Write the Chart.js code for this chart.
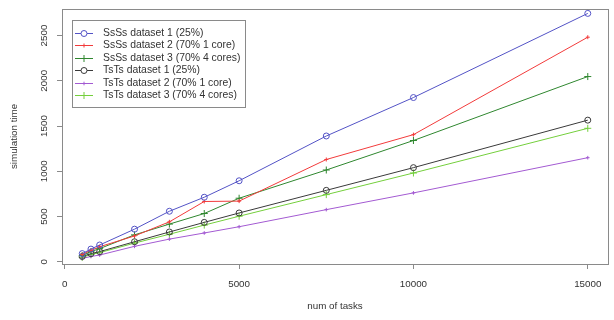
<!DOCTYPE html>
<html>
<head>
<meta charset="utf-8">
<script src="https://cdn.jsdelivr.net/npm/chart.js@4"></script>
<style>
    html, body { margin: 0; padding: 0; background: #fff; }
    #wrap { width: 614px; height: 320px; position: relative; }
</style>
</head>
<body>
<div id="wrap"><canvas id="chart" width="614" height="320"></canvas></div>
<script>
// tasks on the x axis
const numTasks = [500, 750, 1000, 2000, 3000, 4000, 5000, 7500, 10000, 15000];

// simulation times
const ssss1 = [90, 140, 185, 360, 558, 713, 895, 1390, 1815, 2745];
const ssss2 = [80, 126, 166, 285, 441, 666, 670, 1130, 1405, 2482];
const ssss3 = [68, 112, 145, 297, 416, 533, 702, 1014, 1340, 2047];
const tsts1 = [58, 90, 112, 221, 329, 435, 539, 789, 1040, 1565];
const tsts2 = [36, 58, 74, 170, 250, 318, 387, 576, 761, 1150];
const tsts3 = [47, 80, 101, 206, 304, 405, 503, 742, 981, 1475];

const seriesNames = [
    "SsSs dataset 1 (25%)",
    "SsSs dataset 2 (70% 1 core)",
    "SsSs dataset 3 (70% 4 cores)",
    "TsTs dataset 1 (25%)",
    "TsTs dataset 2 (70% 1 core)",
    "TsTs dataset 3 (70% 4 cores)"
];

const xTicks = [0, 5000, 10000, 15000];
const yTicks = [0, 500, 1000, 1500, 2000, 2500];

const FONT = "'Liberation Sans', Arial, sans-serif";
const AXIS_GRAY = "#8a8a8a";

// colour, point style, point radius per series
const styles = [
    { color: "#5353c6", point: "circle", radius: 3 },
    { color: "#f23b3b", point: "cross", radius: 2 },
    { color: "#2f872f", point: "cross", radius: 3.5 },
    { color: "#3a3a3a", point: "circle", radius: 3 },
    { color: "#a35ad2", point: "cross", radius: 1.8 },
    { color: "#74cf3c", point: "cross", radius: 3.5 }
];

const allSeries = [ssss1, ssss2, ssss3, tsts1, tsts2, tsts3];

function toPoints(values) {
    return values.map((v, i) => ({ x: numTasks[i], y: v }));
}

const datasets = allSeries.map((values, i) => ({
    label: seriesNames[i],
    data: toPoints(values),
    borderColor: styles[i].color,
    backgroundColor: "rgba(0,0,0,0)",
    borderWidth: 1,
    pointStyle: styles[i].point,
    pointRadius: styles[i].radius,
    pointBorderWidth: 1,
    pointBorderColor: styles[i].color,
    pointBackgroundColor: "rgba(0,0,0,0)",
    tension: 0
}));

// box round the plot, R style
const boxPlugin = {
    id: "box",
    beforeDatasetsDraw(chart) {
        const { ctx, chartArea: a } = chart;
        ctx.save();
        ctx.strokeStyle = AXIS_GRAY;
        ctx.lineWidth = 1;
        ctx.strokeRect(Math.round(a.left) + 0.5, Math.round(a.top) + 0.5,
            Math.round(a.right - a.left), Math.round(a.bottom - a.top));
        ctx.restore();
    }
};

// y tick labels drawn parallel to the axis
const yLabelPlugin = {
    id: "yLabels",
    afterDraw(chart) {
        const { ctx } = chart;
        const y = chart.scales.y;
        ctx.save();
        ctx.fillStyle = "#333";
        ctx.font = "9.8px " + FONT;
        ctx.textAlign = "center";
        ctx.textBaseline = "middle";
        y.ticks.forEach(t => {
            const py = y.getPixelForValue(t.value);
            ctx.save();
            ctx.translate(44, py);
            ctx.rotate(-Math.PI / 2);
            ctx.fillText(String(t.value), 0, 0);
            ctx.restore();
        });
        ctx.restore();
    }
};

// legend box in the top left corner
const legendPlugin = {
    id: "boxLegend",
    afterDraw(chart) {
        const { ctx } = chart;
        const left = 72, top = 20, right = 245, bottom = 107;
        ctx.save();
        ctx.fillStyle = "#fff";
        ctx.fillRect(left, top, right - left, bottom - top);
        ctx.strokeStyle = AXIS_GRAY;
        ctx.lineWidth = 1;
        ctx.strokeRect(left + 0.5, top + 0.5, right - left, bottom - top);
        ctx.font = "10.4px " + FONT;
        ctx.textBaseline = "middle";
        chart.data.datasets.forEach((ds, i) => {
            const rowY = Math.round(33 + i * 12.4) + 0.5;
            ctx.strokeStyle = ds.borderColor;
            ctx.beginPath();
            ctx.moveTo(75, rowY);
            ctx.lineTo(93, rowY);
            ctx.stroke();
            ctx.fillStyle = "#fff";
            Chart.helpers.drawPoint(ctx, {
                pointStyle: ds.pointStyle,
                radius: ds.pointRadius,
                borderWidth: 1,
                rotation: 0
            }, 84, rowY);
            ctx.fillStyle = "#333";
            ctx.fillText(ds.label, 103, rowY);
        });
        ctx.restore();
    }
};

new Chart(document.getElementById("chart").getContext("2d"), {
    type: "line",
    data: { datasets: datasets },
    options: {
        responsive: false,
        animation: false,
        events: [],
        layout: { padding: { top: 3, right: 6, left: 0, bottom: 0 } },
        plugins: {
            legend: { display: false },
            tooltip: { enabled: false }
        },
        scales: {
            x: {
                type: "linear",
                min: -80,
                max: 15580,
                afterBuildTicks: scale => { scale.ticks = xTicks.map(v => ({ value: v })); },
                afterFit: scale => { scale.height = 56; },
                grid: { drawOnChartArea: false, drawTicks: true, tickLength: 5, color: AXIS_GRAY },
                border: { display: false },
                ticks: {
                    color: "#333",
                    font: { family: FONT, size: 9.8 },
                    padding: 9,
                    maxRotation: 0,
                    callback: v => String(v)
                },
                title: {
                    display: true,
                    text: "num of tasks",
                    color: "#333",
                    font: { family: FONT, size: 9.8 },
                    padding: { top: 0, bottom: 8 }
                }
            },
            y: {
                type: "linear",
                min: -25,
                max: 2795,
                afterBuildTicks: scale => { scale.ticks = yTicks.map(v => ({ value: v })); },
                afterFit: scale => { scale.width = 62; },
                grid: { drawOnChartArea: false, drawTicks: true, tickLength: 5, color: AXIS_GRAY },
                border: { display: false },
                ticks: { color: "rgba(0,0,0,0)", font: { family: FONT, size: 9.8 } },
                title: {
                    display: true,
                    text: "simulation time",
                    color: "#333",
                    font: { family: FONT, size: 9.8 },
                    padding: { top: 8, bottom: 0 }
                }
            }
        }
    },
    plugins: [boxPlugin, yLabelPlugin, legendPlugin]
});
</script>
</body>
</html>
